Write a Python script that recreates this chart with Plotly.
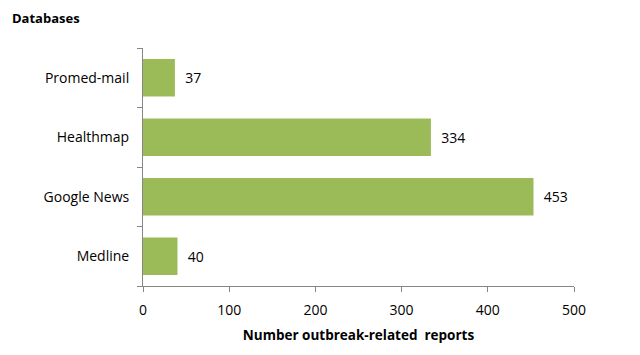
import plotly.graph_objects as go

categories = ["Medline", "Google News", "Healthmap", "Promed-mail"]
values = [40, 453, 334, 37]
x_ticks = [0, 100, 200, 300, 400, 500]

# page body has an 8px margin, so figure is offset by (8, 8)
W, H = 632, 347
L, R, T, B = 135, 66, 40, 69
PW, PH = W - L - R, H - T - B

fig = go.Figure(go.Bar(
    y=categories, x=values, orientation="h",
    marker=dict(color="#9BBB59", line=dict(width=0)),
    text=["  " + str(v) for v in values], textposition="outside",
    textfont=dict(size=14, color="#000000"),
    cliponaxis=False,
))

fig.update_layout(
    width=W, height=H,
    margin=dict(l=L, r=R, t=T, b=B, autoexpand=False),
    paper_bgcolor="white", plot_bgcolor="white",
    font=dict(family="Open Sans, sans-serif", size=14, color="#000000"),
    bargap=0.37,
    showlegend=False,
    annotations=[dict(text="<b>Databases</b>", x=(2 - L) / PW, y=1 + (T - 10) / PH,
                      xref="paper", yref="paper",
                      showarrow=False, xanchor="left", yanchor="middle",
                      font=dict(size=13))],
)

fig.update_xaxes(
    range=[0, 500], tickvals=x_ticks, ticks="outside", ticklen=5,
    tickcolor="#868686", showline=True, linecolor="#868686", linewidth=1,
    showgrid=False, zeroline=False, automargin=False,
    title=dict(text="<b>Number outbreak-related  reports</b>", standoff=12,
               font=dict(size=13.5)),
    tickfont=dict(size=14), ticklabelstandoff=6,
)
fig.update_yaxes(
    ticks="outside", tickson="boundaries", ticklen=5, tickcolor="#868686",
    showline=True, linecolor="#868686", linewidth=1, showgrid=False,
    automargin=False, tickfont=dict(size=14), ticklabelstandoff=10,
)

fig.write_html("out.html")
